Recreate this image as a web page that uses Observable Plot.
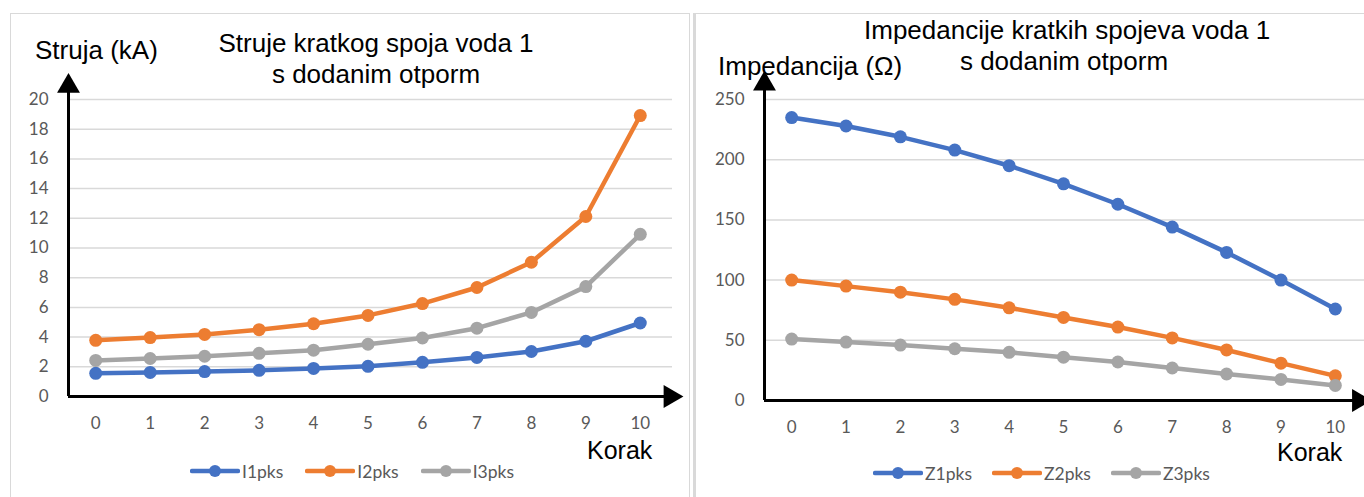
<!DOCTYPE html>
<html><head><meta charset="utf-8">
<script src="https://cdn.jsdelivr.net/npm/d3@7"></script>
<script src="https://cdn.jsdelivr.net/npm/@observablehq/plot@0.6"></script>
<style>
body{margin:0;background:#fff;}
#root{position:relative;width:1364px;height:497px;overflow:hidden;font-family:"Liberation Sans",Arial,sans-serif;background:#fff;}
.abs{position:absolute;white-space:nowrap;}
.title{font-size:26px;color:#000;text-align:center;line-height:31px;}
.lbl{font-size:26px;color:#000;line-height:30px;}
.leg{position:absolute;display:flex;align-items:center;font-family:Lato,"Liberation Sans",sans-serif;font-size:17.5px;color:#595959;white-space:nowrap;}
.leg .it{display:flex;align-items:center;}
.leg svg{margin-right:2px;}
.plot{position:absolute;top:0;}
</style>
</head><body><div id="root"></div>
<script>
// ---- data ----
const steps = [0,1,2,3,4,5,6,7,8,9,10];
const seriesI = ["I1pks","I2pks","I3pks"];
const I1 = [1.56, 1.62, 1.68, 1.76, 1.89, 2.03, 2.30, 2.63, 3.03, 3.72, 4.95];
const I2 = [3.78, 3.97, 4.18, 4.50, 4.90, 5.46, 6.26, 7.34, 9.04, 12.12, 18.92];
const I3 = [2.43, 2.56, 2.71, 2.91, 3.12, 3.52, 3.94, 4.60, 5.66, 7.40, 10.92];
const yTicksI = [0,2,4,6,8,10,12,14,16,18,20];

const seriesZ = ["Z1pks","Z2pks","Z3pks"];
const Z1 = [235, 228, 219, 208, 195, 180, 163, 144, 123, 100, 76];
const Z2 = [100, 95, 90, 84, 77, 69, 61, 52, 42, 31, 20.5];
const Z3 = [51, 48.5, 46, 43, 40, 36, 32, 27, 22, 17.5, 12.5];
const yTicksZ = [0,50,100,150,200,250];

const colors = ["#4472C4","#ED7D31","#A5A5A5"];

function table(names, arrays){
  return names.flatMap((s,i)=>arrays[i].map((v,k)=>({series:s, step:steps[k], value:v})));
}

function chart({data, names, yTicks, width, height, mt, mb, ml, mr, tipY, tipX}){
  const yMax = yTicks[yTicks.length-1];
  return Plot.plot({
    width, height, marginTop: mt, marginBottom: mb, marginLeft: ml, marginRight: mr,
    style: {background:"transparent", overflow:"visible"},
    x: {domain: [-0.5, 10.5], axis: null},
    y: {domain: [0, yMax], axis: null},
    color: {domain: names, range: colors},
    marks: [
      Plot.ruleY(yTicks.slice(1), {stroke:"#d9d9d9", strokeWidth:1.5, insetRight:-5}),
      Plot.axisY(yTicks, {tickSize:0, tickPadding:20, fontSize:17, fontFamily:"Lato, sans-serif", color:"#595959", label:null}),
      Plot.axisX(steps, {tickSize:0, tickPadding:20, fontSize:17, fontFamily:"Lato, sans-serif", color:"#595959", label:null}),
      Plot.line(data, {x:"step", y:"value", z:"series", stroke:"series", strokeWidth:4.5}),
      Plot.dot(data, {x:"step", y:"value", fill:"series", r:6.5}),
      Plot.ruleX([-0.5], {y1:0, y2:tipY, stroke:"#000", strokeWidth:3}),
      Plot.ruleY([0], {x1:-0.5, x2:tipX, stroke:"#000", strokeWidth:3}),
      Plot.dot([{x:-0.5, y:tipY}], {x:"x", y:"y", symbol:"triangle", r:8.5, fill:"#000"}),
      Plot.dot([{x:tipX, y:0}], {x:"x", y:"y", symbol:"triangle", r:8.5, fill:"#000", rotate:90})
    ]
  });
}

const root = document.getElementById("root");

// panel borders
root.insertAdjacentHTML("beforeend",
 `<div class="abs" style="left:10px;top:13px;width:680px;height:500px;border:1px solid #d9d9d9;box-sizing:border-box"></div>
  <div class="abs" style="left:693px;top:13px;width:700px;height:500px;border:1px solid #d9d9d9;border-left:3px solid #d9d9d9;box-sizing:border-box"></div>`);

const left = chart({data: table(seriesI,[I1,I2,I3]), names: seriesI, yTicks: yTicksI,
  width: 690, height: 440, mt: 99, mb: 44, ml: 68, mr: 23, tipY: 20.9, tipX: 10.55});
left.classList.add("plot"); left.style.left = "0px";
root.appendChild(left);

const right = chart({data: table(seriesZ,[Z1,Z2,Z3]), names: seriesZ, yTicks: yTicksZ,
  width: 671, height: 440, mt: 99, mb: 40, ml: 71, mr: 2, tipY: 263, tipX: 10.43});
right.classList.add("plot"); right.style.left = "693px";
root.appendChild(right);

// texts
root.insertAdjacentHTML("beforeend", `
 <div class="abs title" style="left:176px;width:400px;top:28px">Struje kratkog spoja voda 1<br>s dodanim otporm</div>
 <div class="abs lbl" style="left:35px;top:35px">Struja (kA)</div>
 <div class="abs lbl" style="left:587px;top:435px;font-size:25px">Korak</div>
 <div class="abs title" style="left:864px;width:400px;top:15px">Impedancije kratkih spojeva voda 1<br>s dodanim otporm</div>
 <div class="abs lbl" style="left:718px;top:51px">Impedancija (Ω)</div>
 <div class="abs lbl" style="left:1277px;top:437px;font-size:25px">Korak</div>
`);

function legend(names, x, y, gap){
  const items = names.map((n,i)=>`<div class="it" style="margin-right:${gap}px"><svg width="50" height="14"><line x1="2" x2="48" y1="7" y2="7" stroke="${colors[i]}" stroke-width="4.5" stroke-linecap="round"/><circle cx="25" cy="7" r="6" fill="${colors[i]}"/></svg><span>${n}</span></div>`).join("");
  root.insertAdjacentHTML("beforeend", `<div class="leg" style="left:${x}px;top:${y-10}px;height:20px">${items}</div>`);
}
legend(seriesI, 190, 471, 22);
legend(seriesZ, 873, 473, 20);
</script>
</body></html>
